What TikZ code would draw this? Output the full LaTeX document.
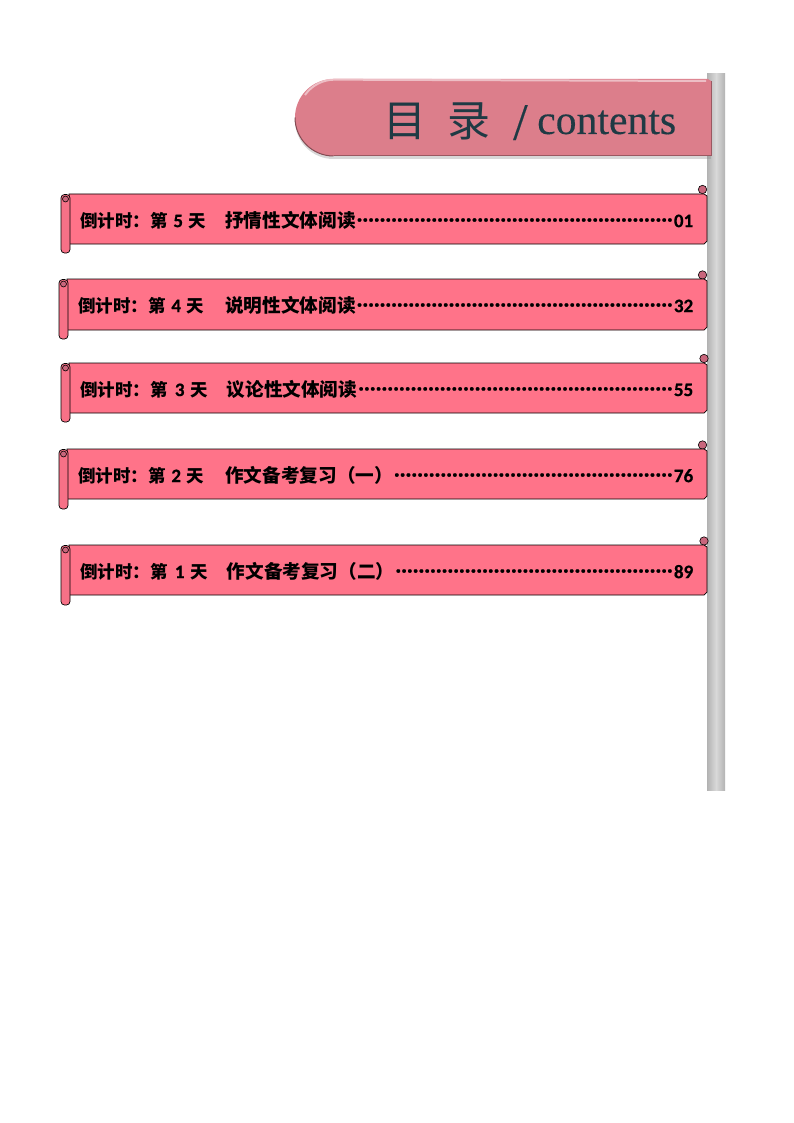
\documentclass[tikz,border=0pt]{standalone}
\usepackage{fontspec}
\setmainfont[BoldFeatures={FakeBold=0.6}]{Carlito}
\newfontfamily\cjk[Scale=0.92]{Noto Sans CJK SC}
\newfontfamily\cjkb[Scale=0.98]{Noto Sans CJK SC}
\newfontfamily\titlecjk{Noto Sans CJK SC}
\newfontfamily\titlelatin[FakeBold=0.25]{Liberation Serif}
\usetikzlibrary{shadows}
\definecolor{signpink}{HTML}{DC7E8B}
\definecolor{rowpink}{HTML}{FF7389}
\definecolor{curlpink}{HTML}{C9667C}
\definecolor{titleink}{HTML}{1F3A44}
\newcommand{\rowdots}{\hspace{1pt}\xleaders\hbox to 5.73pt{\hss\raisebox{5.5pt}{\fontsize{24}{20}\selectfont.}\hss}\hfill\hspace{1pt}}
\tikzset{
  rowbody/.style={draw=black, fill=rowpink, line width=0.7pt},
  rowroll/.style={draw=black, fill=rowpink!85!curlpink, line width=0.7pt, rounded corners=3.5pt},
  rowcurl/.style={draw=black, fill=curlpink, line width=0.6pt},
  rowtext/.style={anchor=west, inner sep=0pt, text=black, font=\bfseries\fontsize{19}{22}\selectfont},
  titletext/.style={anchor=base west, inner sep=0pt, text=titleink}
}
\begin{document}
\begin{tikzpicture}[x=1pt,y=-1pt]
\useasboundingbox (0,0) rectangle (794,1123);
\fill[white] (0,0) rectangle (794,1123);

% pole
\shade[left color=gray!60, right color=gray!60, middle color=gray!30] (707,74) rectangle (725,790);

% sign
\path[fill=signpink, drop shadow={shadow xshift=0pt, shadow yshift=-3pt, opacity=0.3}]
  (708,79) -- (333.5,79) arc (270:90:38.5) -- (711,156) -- (711,81) -- cycle;
\draw[signpink!60!black, line width=1pt] (333.5,156) arc (90:180:38.5);
\draw[signpink!70!black, line width=1pt] (333.5,156) -- (711,156) -- (711,81);
\draw[signpink!50!white, line width=2pt] (305,95) arc (215:270:36) -- (706,81);

\node[titletext, font=\titlecjk\fontsize{43}{46}\selectfont] (t1) at (383,137) {目};
\node[titletext, font=\titlecjk\fontsize{43}{46}\selectfont] (t2) at (447,137) {录};
\node[titletext, font=\titlelatin\fontsize{52}{54}\selectfont] (t3) at (513,139.5) {/};
\node[titletext, font=\titlelatin\fontsize{41.7}{46}\selectfont] (t4) at (537,134) {contents};

% row 1
\draw[rowcurl] (702.5,189.5) circle (4.2);
\draw[rowbody] (69,194) -- (704,194) -- (707,196) -- (707,241) -- (704,244) -- (69,244) -- cycle;
\draw[rowroll] (61,194.5) rectangle (70,253);
\draw[rowcurl] (65.5,199) circle (3);
\node[rowtext] (r1) at (80,220) {\hbox to 613pt{{\cjk 倒计时：第}\hspace{1.5pt} 5 \hspace{1.5pt}{\cjk 天}\hspace{19pt}{\cjkb 抒情性文体阅读}\rowdots 01}};

% row 2
\draw[rowcurl] (702.5,275) circle (4.2);
\draw[rowbody] (67,279) -- (704,279) -- (707,281) -- (707,327) -- (704,330) -- (67,330) -- cycle;
\draw[rowroll] (59,279.5) rectangle (68,339);
\draw[rowcurl] (63.5,284) circle (3);
\node[rowtext] (r2) at (78,305) {\hbox to 615pt{{\cjk 倒计时：第}\hspace{1.5pt} 4 \hspace{1.5pt}{\cjk 天}\hspace{21pt}{\cjkb 说明性文体阅读}\rowdots 32}};

% row 3
\draw[rowcurl] (704,358.5) circle (4.2);
\draw[rowbody] (69,363) -- (704,363) -- (707,365) -- (707,410) -- (704,413) -- (69,413) -- cycle;
\draw[rowroll] (61,363.5) rectangle (70,422);
\draw[rowcurl] (65.5,368) circle (3);
\node[rowtext] (r3) at (80,389) {\hbox to 613pt{{\cjk 倒计时：第}\hspace{3pt} 3 \hspace{1.5pt}{\cjk 天}\hspace{19pt}{\cjkb 议论性文体阅读}\rowdots 55}};

% row 4
\draw[rowcurl] (702.5,445) circle (4.2);
\draw[rowbody] (67,449) -- (704,449) -- (707,451) -- (707,496) -- (704,499) -- (67,499) -- cycle;
\draw[rowroll] (59,449.5) rectangle (68,509);
\draw[rowcurl] (63.5,454) circle (3);
\node[rowtext] (r4) at (78,475) {\hbox to 615pt{{\cjk 倒计时：第}\hspace{1.5pt} 2 \hspace{1.5pt}{\cjk 天}\hspace{21pt}{\cjkb 作文备考复习（一）}\rowdots 76}};

% row 5
\draw[rowcurl] (704,541) circle (4.2);
\draw[rowbody] (69,545) -- (704,545) -- (707,547) -- (707,592) -- (704,595) -- (69,595) -- cycle;
\draw[rowroll] (61,545.5) rectangle (70,605);
\draw[rowcurl] (65.5,550) circle (3);
\node[rowtext] (r5) at (80,571) {\hbox to 613pt{{\cjk 倒计时：第}\hspace{3pt} 1 \hspace{1.5pt}{\cjk 天}\hspace{19pt}{\cjkb 作文备考复习（二）}\rowdots 89}};
\end{tikzpicture}
\end{document}
